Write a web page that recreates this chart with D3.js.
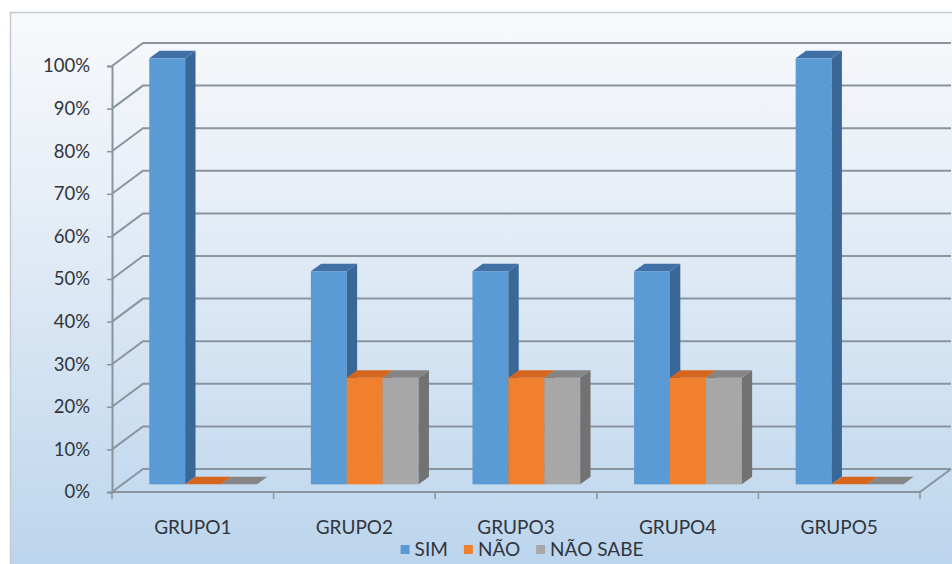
<!DOCTYPE html>
<html>
<head>
<meta charset="utf-8">
<script src="https://cdn.jsdelivr.net/npm/d3@7"></script>
<style>
  html, body { margin: 0; padding: 0; background: #ffffff; }
  svg { display: block; }
  text { font-family: Lato, "Open Sans", sans-serif; fill: #30353d; }
</style>
</head>
<body>
<script>
// Survey answers per group (share of respondents)
const categories = ["GRUPO1", "GRUPO2", "GRUPO3", "GRUPO4", "GRUPO5"];
const seriesNames = ["SIM", "NÃO", "NÃO SABE"];
const simValues = [1.00, 0.50, 0.50, 0.50, 1.00];
const naoValues = [0.00, 0.25, 0.25, 0.25, 0.00];
const naoSabeValues = [0.00, 0.25, 0.25, 0.25, 0.00];
const yTickValues = [0, 0.1, 0.2, 0.3, 0.4, 0.5, 0.6, 0.7, 0.8, 0.9, 1.0];

const seriesValues = [simValues, naoValues, naoSabeValues];

// face colours per series: front, top, side
const palette = {
  "SIM":      { front: "#5b9bd5", top: "#3f70a6", side: "#396797" },
  "NÃO":      { front: "#f07f2e", top: "#d6661e", side: "#b3561b" },
  "NÃO SABE": { front: "#a7a7a7", top: "#858585", side: "#727272" }
};

const W = 952, H = 564;
const floorLeft = 112, floorRight = 920;
const baseY = 492, topY = 66;
const depthX = 31, depthY = -23;       // oblique offset of the back wall
const barDX = depthX / 3, barDY = depthY / 3; // bars sit in the middle third of the floor depth

const svg = d3.select("body").append("svg")
  .attr("width", W).attr("height", H);

const defs = svg.append("defs");
const bg = defs.append("linearGradient").attr("id", "bg")
  .attr("x1", 0).attr("y1", 0).attr("x2", 0).attr("y2", 1);
bg.append("stop").attr("offset", "0%").attr("stop-color", "#f8f9fb");
bg.append("stop").attr("offset", "30%").attr("stop-color", "#e8eff7");
bg.append("stop").attr("offset", "100%").attr("stop-color", "#b8d3ec");

// chart area
svg.append("rect")
  .attr("x", 10.5).attr("y", 12.5)
  .attr("width", W + 20).attr("height", H + 20)
  .attr("fill", "url(#bg)")
  .attr("stroke", "#c3c9d0").attr("stroke-width", 1.5);

const x = d3.scaleBand().domain(categories).range([floorLeft, floorRight]);
const xs = d3.scaleBand().domain(seriesNames).range([0, x.bandwidth()])
  .paddingInner(0).paddingOuter(0.75);
const y = d3.scaleLinear().domain([0, 1]).range([baseY, topY]);

const gridColor = "#8a949f";

// back-wall gridlines and side-wall diagonals
const grid = svg.append("g").attr("fill", "none").attr("stroke", gridColor).attr("stroke-width", 2);
yTickValues.forEach(v => {
  const yf = y(v);
  grid.append("path")
    .attr("d", `M${floorLeft},${yf}L${floorLeft + depthX},${yf + depthY}L${floorRight + depthX},${yf + depthY}`);
});

// floor outline
grid.append("path")
  .attr("d", `M${floorLeft},${baseY}L${floorRight},${baseY}L${floorRight + depthX},${baseY + depthY}`);

// value axis
const yAxis = d3.axisLeft(y)
  .tickValues(yTickValues)
  .tickFormat(d3.format(".0%"))
  .tickSize(5)
  .tickPadding(17);
const yg = svg.append("g").attr("transform", `translate(${floorLeft},0)`).call(yAxis);
yg.select(".domain").attr("stroke", gridColor).attr("stroke-width", 2);
yg.selectAll(".tick line").attr("stroke", gridColor).attr("stroke-width", 1.5);
yg.selectAll(".tick text").style("font-size", "18.5px").attr("fill", "#30353d");

// category axis: labels centred in each band, ticks on band boundaries
const xAxis = d3.axisBottom(x).tickSize(0).tickPadding(29);
const xg = svg.append("g").attr("transform", `translate(0,${baseY})`).call(xAxis);
xg.select(".domain").remove();
xg.selectAll(".tick text").style("font-size", "19px").attr("fill", "#30353d");

const boundaries = categories.map(c => x(c)).concat([floorRight]);
svg.append("g").selectAll("line").data(boundaries).join("line")
  .attr("x1", d => d).attr("x2", d => d)
  .attr("y1", baseY).attr("y2", baseY + 7)
  .attr("stroke", gridColor).attr("stroke-width", 1.5);

// 3D columns, drawn left to right so neighbours hide side faces
const bars = [];
categories.forEach((c, ci) => {
  seriesNames.forEach((s, si) => {
    bars.push({ cat: c, series: s, value: seriesValues[si][ci] });
  });
});

const barG = svg.append("g");
bars.forEach(b => {
  const w = xs.bandwidth();
  const x0 = x(b.cat) + xs(b.series) + barDX;
  const yb = y(0) + barDY;
  const yt = y(b.value) + barDY;
  const col = palette[b.series];
  const g = barG.append("g");
  if (b.value > 0) {
    g.append("rect")
      .attr("x", x0).attr("y", yt)
      .attr("width", w).attr("height", yb - yt)
      .attr("fill", col.front);
    g.append("path")
      .attr("d", `M${x0 + w},${yt}L${x0 + w + barDX},${yt + barDY}L${x0 + w + barDX},${yb + barDY}L${x0 + w},${yb}Z`)
      .attr("fill", col.side);
  }
  g.append("path")
    .attr("d", `M${x0},${yt}L${x0 + w},${yt}L${x0 + w + barDX},${yt + barDY}L${x0 + barDX},${yt + barDY}Z`)
    .attr("fill", col.top);
});

// legend
const legend = svg.append("g");
const items = legend.selectAll("g").data(seriesNames).join("g");
items.append("rect")
  .attr("width", 9).attr("height", 9)
  .attr("y", -11)
  .attr("fill", d => palette[d].front);
items.append("text")
  .attr("x", 14)
  .style("font-size", "19px")
  .attr("fill", "#30353d")
  .text(d => d);
let lx = 0;
const offsets = [];
const itemGap = 16;
items.each(function () {
  const tw = d3.select(this).select("text").node().getComputedTextLength();
  offsets.push(lx);
  lx += 14 + tw + itemGap;
});
const totalW = lx - itemGap;
const legendLeft = 522 - totalW / 2;
items.attr("transform", (d, i) => `translate(${legendLeft + offsets[i]},556)`);
</script>
</body>
</html>
